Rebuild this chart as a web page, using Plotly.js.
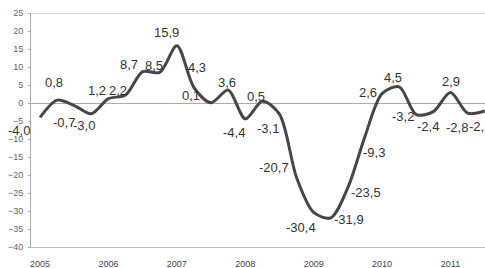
<!DOCTYPE html>
<html>
<head>
<meta charset="utf-8">
<script src="https://cdn.plot.ly/plotly-3.0.1.min.js"></script>
<style>html,body{margin:0;padding:0;background:#fff;}#chart{width:485px;height:268px;}</style>
</head>
<body>
<div id="chart"></div>
<script>
// Quarterly values, 2005 Q1 .. 2011 Q3
var quarters = ["2005 Q1","2005 Q2","2005 Q3","2005 Q4","2006 Q1","2006 Q2","2006 Q3","2006 Q4",
  "2007 Q1","2007 Q2","2007 Q3","2007 Q4","2008 Q1","2008 Q2","2008 Q3","2008 Q4",
  "2009 Q1","2009 Q2","2009 Q3","2009 Q4","2010 Q1","2010 Q2","2010 Q3","2010 Q4",
  "2011 Q1","2011 Q2","2011 Q3"];
var values = [-4.0, 0.8, -0.7, -3.0, 1.2, 2.2, 8.7, 8.5,
  15.9, 4.3, 0.1, 3.6, -4.4, 0.5, -3.1, -20.7,
  -30.4, -31.9, -23.5, -9.3, 2.6, 4.5, -3.2, -2.4,
  2.9, -2.8, -2.2];
var yearTickIdx = [0, 4, 8, 12, 16, 20, 24];
var yearLabels = ["2005","2006","2007","2008","2009","2010","2011"];
var yTicks = [-40,-35,-30,-25,-20,-15,-10,-5,0,5,10,15,20,25];

// label placement offsets in pixels [dx, dy(down)] (styling only)
var labelOffsets = [[-21,13],[-3,-18],[-10,17],[-7,12],[-11,-8],[-8,-5],[-14,-7],[-6,-7],
  [-10,-13],[3,-20],[-20,-7],[-1,-8],[-11,14],[-6,-5],[-11,14],[-23,-10],
  [-13,15],[18,2],[18,5],[9,16],[-14,-1],[-6,-9],[-13,2],[-5,15],
  [1,-11],[-11,14],[-5,16]];

var xIdx = quarters.map(function(q, i){ return i; });
var texts = values.map(function(v){ return v.toFixed(1).replace('.', ','); });

var trace = {
  x: xIdx,
  y: values,
  type: 'scatter',
  mode: 'lines',
  line: {shape: 'spline', smoothing: 0.85, color: '#464646', width: 3},
  hoverinfo: 'skip'
};

var annotations = values.map(function(v, i){
  return {
    x: xIdx[i], y: v, xref: 'x', yref: 'y',
    text: texts[i], showarrow: false,
    xanchor: 'center', yanchor: 'middle',
    xshift: labelOffsets[i][0], yshift: -labelOffsets[i][1],
    font: {family: 'Liberation Sans, Arial, sans-serif', size: 13, color: '#333333'}
  };
});

var layout = {
  width: 485, height: 268,
  margin: {l: 31, r: 0, t: 13, b: 21, pad: 0},
  paper_bgcolor: '#ffffff',
  plot_bgcolor: '#ffffff',
  showlegend: false,
  xaxis: {
    range: [-0.53, 26.02],
    tickvals: yearTickIdx,
    ticktext: yearLabels,
    showgrid: false,
    zeroline: false,
    showline: true,
    linecolor: '#bbbbbb',
    linewidth: 1,
    ticks: '',
    ticklabelstandoff: 8,
    tickfont: {family: 'Liberation Sans Narrow, Liberation Sans, Arial, sans-serif', size: 9, color: '#444444'},
    fixedrange: true
  },
  yaxis: {
    range: [-40, 25],
    tickvals: yTicks,
    showgrid: false,
    zeroline: true,
    zerolinecolor: '#aaaaaa',
    zerolinewidth: 1,
    showline: true,
    linecolor: '#aaaaaa',
    linewidth: 1,
    ticks: 'outside',
    ticklen: 2,
    tickcolor: '#aaaaaa',
    ticklabelstandoff: 3,
    tickfont: {family: 'Liberation Sans, Arial, sans-serif', size: 9, color: '#666666'},
    fixedrange: true
  },
  annotations: annotations,
  shapes: [{
    type: 'line', xref: 'paper', yref: 'y', x0: 0, x1: 1, y0: 25, y1: 25,
    line: {color: '#aaaaaa', width: 1}
  }]
};

Plotly.newPlot('chart', [trace], layout, {displayModeBar: false, staticPlot: true});
</script>
</body>
</html>
